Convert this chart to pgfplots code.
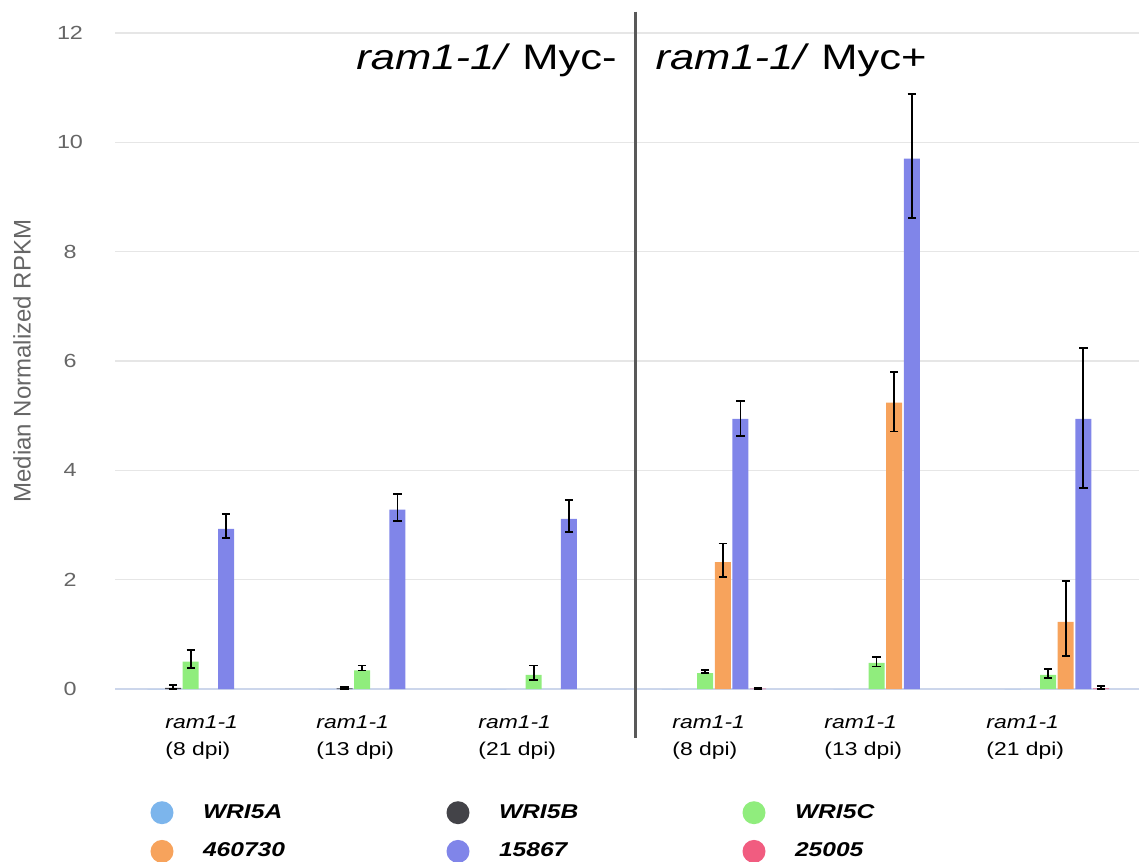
\documentclass[border=0pt]{standalone}
\usepackage{fontspec}
\setmainfont{Liberation Sans}
\usepackage{graphicx}
\usepackage{pgfplots}
\pgfplotsset{compat=1.18}
\definecolor{cA}{HTML}{7CB5EC}
\definecolor{cB}{HTML}{434348}
\definecolor{cC}{HTML}{90ED7D}
\definecolor{cD}{HTML}{F7A35C}
\definecolor{cE}{HTML}{8085E9}
\definecolor{cF}{HTML}{F15C80}
\definecolor{gridc}{HTML}{E6E6E6}
\definecolor{axisline}{HTML}{CCD6EB}
\definecolor{tickgray}{HTML}{666666}
\definecolor{divider}{HTML}{595959}
\newcommand{\hs}[1]{\scalebox{1.23}[1]{#1}}
\pgfplotsset{
  circ/.style={legend image code/.code={\fill (0pt,0pt) circle (5.75pt);}},
  errb/.style={error bars/.cd, y dir=both, y explicit,
    error bar style={line width=0.9pt, black},
    error mark options={rotate=90, mark size=2.1pt, line width=0.9pt, black}},
}
\begin{document}
\begin{tikzpicture}
\useasboundingbox (-57.5pt,-86pt) rectangle (512pt,344.5pt);
\begin{axis}[
  at={(0pt,0pt)}, anchor=south west,
  width=512pt, height=328pt, scale only axis,
  xmin=-0.493, xmax=5.479, ymin=0, ymax=12,
  enlargelimits=false,
  ybar, bar width=0.0933,
  clip=false,
  separate axis lines,
  axis x line*=bottom,
  axis y line*=left,
  x axis line style={draw=axisline, line width=0.6pt, -},
  y axis line style={draw=none},
  tick style={draw=none},
  ymajorgrids, major grid style={draw=gridc, line width=0.6pt},
  ytick={0,2,4,6,8,10,12},
  yticklabels={\hs{0},\hs{2},\hs{4},\hs{6},\hs{8},\hs{10},\hs{12}},
  yticklabel style={anchor=center, xshift=-22.5pt, font=\fontsize{9.5}{11}\selectfont, text=tickgray, inner sep=0pt},
  xtick={-0.2012,0.6795,1.6243,2.7557,3.6422,4.5870},
  xticklabels={
    {\hs{\textit{ram1-1}}\\\hs{(8 dpi)}},
    {\hs{\textit{ram1-1}}\\\hs{(13 dpi)}},
    {\hs{\textit{ram1-1}}\\\hs{(21 dpi)}},
    {\hs{\textit{ram1-1}}\\\hs{(8 dpi)}},
    {\hs{\textit{ram1-1}}\\\hs{(13 dpi)}},
    {\hs{\textit{ram1-1}}\\\hs{(21 dpi)}}},
  xticklabel style={anchor=north west, yshift=-9pt, align=left, font=\fontsize{9.3}{13.5}\selectfont, inner sep=0pt, text=black},
  ylabel={Median Normalized RPKM},
  ylabel style={at={(axis description cs:-0.0908,0.5)}, anchor=center, font=\fontsize{12}{14}\selectfont, text=tickgray},
  legend columns=3,
  legend cell align=left,
  legend style={at={(0,0)}, anchor=north west, xshift=17.75pt, yshift=-56.1pt,
    draw=none, fill=none, inner sep=0pt, outer sep=0pt,
    nodes={inner sep=0pt, font=\fontsize{10}{12}\selectfont\bfseries\itshape},
    /tikz/every odd column/.style={column sep=14.75pt},
    /tikz/every even column/.style={column sep=21.75pt},
    /tikz/row sep=7.85pt},
]
% WRI5A
\addplot[fill=cA, draw=none, bar shift=-0.2575, circ] coordinates {(0,0) (1,0) (2,0) (3,0) (4,0) (5,0)};
\addlegendentry{\makebox[100pt][l]{\hs{WRI5A}}}
% WRI5B
\addplot[fill=cB, draw=none, bar shift=-0.1545, circ, errb] coordinates {
  (0,0.02) += (0,0.06) -= (0,0.02)
  (1,0.01) += (0,0.02) -= (0,0.01)
};
\addlegendentry{\makebox[100pt][l]{\hs{WRI5B}}}
% WRI5C
\addplot[fill=cC, draw=none, bar shift=-0.0515, circ, errb] coordinates {
  (0,0.50) += (0,0.22) -= (0,0.12)
  (1,0.34) += (0,0.09) -= (0,0.00)
  (2,0.26) += (0,0.17) -= (0,0.09)
  (3,0.29) += (0,0.06) -= (0,0.00)
  (4,0.48) += (0,0.10) -= (0,0.07)
  (5,0.26) += (0,0.11) -= (0,0.06)
};
\addlegendentry{\makebox[100pt][l]{\hs{WRI5C}}}
% 460730
\addplot[fill=cD, draw=none, bar shift=0.0515, circ, errb] coordinates {
  (3,2.32) += (0,0.34) -= (0,0.27)
  (4,5.24) += (0,0.56) -= (0,0.53)
  (5,1.23) += (0,0.75) -= (0,0.62)
};
\addlegendentry{\makebox[100pt][l]{\hs{460730}}}
% 15867
\addplot[fill=cE, draw=none, bar shift=0.1545, circ, errb] coordinates {
  (0,2.93) += (0,0.27) -= (0,0.17)
  (1,3.28) += (0,0.29) -= (0,0.20)
  (2,3.11) += (0,0.35) -= (0,0.24)
  (3,4.94) += (0,0.33) -= (0,0.31)
  (4,9.70) += (0,1.18) -= (0,1.08)
  (5,4.94) += (0,1.30) -= (0,1.26)
};
\addlegendentry{\makebox[100pt][l]{\hs{15867}}}
% 25005
\addplot[fill=cF, draw=none, bar shift=0.2575, circ, errb] coordinates {
  (3,0.005) += (0,0.015) -= (0,0.005)
  (5,0.01) += (0,0.04) -= (0,0.01)
};
\addlegendentry{\makebox[100pt][l]{\hs{25005}}}
\draw[line width=1.5pt, divider] (axis cs:2.54,12.39) -- (axis cs:2.54,-0.89);
\node[anchor=base east, inner sep=0pt, font=\fontsize{17.7}{20}\selectfont] at (axis cs:2.435,11.33) {\hs{\textit{ram1-1/} Myc-}};
\node[anchor=base west, inner sep=0pt, font=\fontsize{17.7}{20}\selectfont] at (axis cs:2.657,11.33) {\hs{\textit{ram1-1/} Myc+}};
\end{axis}
\end{tikzpicture}
\end{document}
